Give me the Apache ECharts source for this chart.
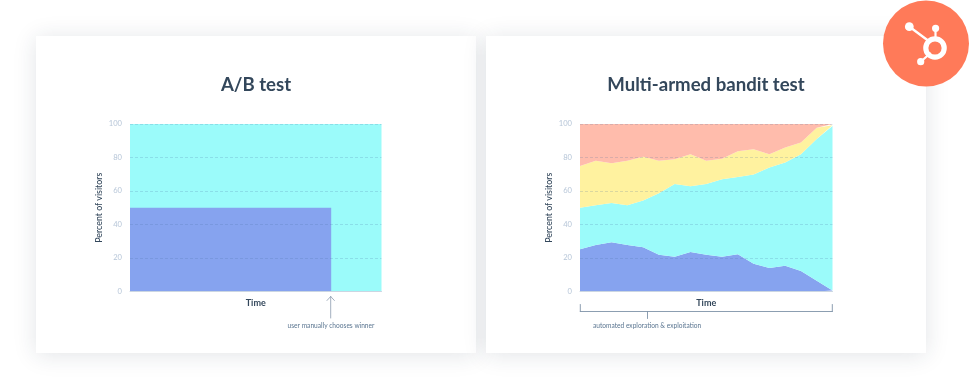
<!DOCTYPE html>
<html>
<head>
<meta charset="utf-8">
<style>html,body{margin:0;padding:0;background:#fff}#c{width:969px;height:389px}</style>
<script src="https://cdn.jsdelivr.net/npm/echarts@6/dist/echarts.min.js"></script>
</head>
<body>
<div id="c"></div>
<script>
const yTicks = [0, 20, 40, 60, 80, 100];

// A/B test: [percent of elapsed time, percent of visitors]
const abBlue = [[0, 50], [80, 50]];
const abCyan = [[0, 100], [100, 100]];

// Multi-armed bandit: share of visitors per arm, at each time step
const steps  = ['1','2','3','4','5','6','7','8','9','10','11','12','13','14','15','16','17'];
const armBlue   = [25.2, 27.8, 29.4, 27.8, 26.4, 22, 20.7, 23.6, 22, 20.7, 22.3, 16.5, 14, 15.3, 12.3, 6.4, 0.6];
const armCyan   = [24.8, 23.7, 23.5, 23.7, 27.9, 36.6, 43.5, 39.2, 42.2, 46.3, 46.1, 53.3, 60, 61.7, 69.7, 84.6, 98.2];
const armYellow = [25, 26.5, 23.6, 26.5, 26.2, 19.4, 14.8, 19.2, 13.8, 12.3, 15.3, 15.2, 8, 9, 7, 6.8, 0.4];
const armRed    = [25, 22, 23.5, 22, 19.5, 22, 21, 18, 22, 20.7, 16.3, 15, 18, 14, 11, 2.2, 0.8];

const BLUE = '#86a3ef', CYAN = '#9bfbfa', YELLOW = '#fff29f', RED = '#ffbcac';
const INK = '#33475b', TICK = '#b7c6d8', NOTE = '#5b7691', FONT = 'Lato, "Open Sans", sans-serif';

function yAxis(gridIndex) {
  return {
    type: 'value', gridIndex, min: yTicks[0], max: yTicks[yTicks.length - 1], interval: 20, z: 6,
    name: 'Percent of visitors', nameLocation: 'middle', nameGap: 26, nameRotate: 90,
    nameTextStyle: { color: INK, fontSize: 8.8, fontFamily: FONT, fontWeight: 500 },
    axisLine: { show: false }, axisTick: { show: false },
    axisLabel: { color: TICK, fontSize: 7.6, fontFamily: FONT, margin: 8 },
    splitLine: { show: true, showMinLine: false, lineStyle: { type: [3, 2], width: 1, color: 'rgba(70,110,160,0.2)' } }
  };
}
const timeName = {
  name: 'Time', nameLocation: 'middle', nameGap: 7, z: 7,
  nameTextStyle: { color: INK, fontSize: 9, fontFamily: FONT, fontWeight: 'bold' },
  axisLine: { show: true, lineStyle: { color: '#cbd6e2', width: 1 } },
  axisTick: { show: false }, axisLabel: { show: false }, splitLine: { show: false }
};
function area(name, data, color, x, y, stack) {
  return {
    name, type: 'line', data, xAxisIndex: x, yAxisIndex: y, stack, symbol: 'none', silent: true,
    lineStyle: { width: 0 }, areaStyle: { color, opacity: 1 }, z: 2
  };
}
const card = (x) => ({
  type: 'rect', z: -10, silent: true,
  shape: { x, y: 36, width: 440, height: 317 },
  style: { fill: '#fff', shadowBlur: 22, shadowColor: 'rgba(30,50,70,0.13)', shadowOffsetY: 2 }
});
const stroke = (color, w) => ({ stroke: color, lineWidth: w, fill: 'none' });
const seg = (x1, y1, x2, y2, color, w, z) => ({
  type: 'line', z: z || 10, silent: true, shape: { x1, y1, x2, y2 },
  style: { stroke: color, lineWidth: w, lineCap: 'round' }
});
const dot = (cx, cy, r) => ({ type: 'circle', z: 102, silent: true, shape: { cx, cy, r }, style: { fill: '#fff' } });
const note = (x, y, text, align) => ({
  type: 'text', z: 10, silent: true, x, y,
  style: { text, fill: NOTE, fontSize: 6.6, fontFamily: FONT, align, verticalAlign: 'middle' }
});

const chart = echarts.init(document.getElementById('c'), null, { renderer: 'canvas' });
chart.setOption({
  animation: false,
  backgroundColor: '#fff',
  title: [
    { text: 'A/B test', left: 251, top: 70, textAlign: 'center',
      textStyle: { color: INK, fontSize: 18.6, fontFamily: FONT, fontWeight: 'bold' } },
    { text: 'Multi-armed bandit test', left: 701, top: 70, textAlign: 'center',
      textStyle: { color: INK, fontSize: 18.6, fontFamily: FONT, fontWeight: 'bold' } }
  ],
  grid: [
    { left: 130, width: 251.5, top: 124, height: 167.5 },
    { left: 580, width: 252.5, top: 124, height: 167.5 }
  ],
  xAxis: [
    Object.assign({ type: 'value', gridIndex: 0, min: 0, max: 100 }, timeName),
    Object.assign({ type: 'category', gridIndex: 1, data: steps, boundaryGap: false }, timeName)
  ],
  yAxis: [yAxis(0), yAxis(1)],
  series: [
    area('Variant B', abCyan, CYAN, 0, 0),
    area('Variant A', abBlue, BLUE, 0, 0),
    area('Arm 1', armBlue, BLUE, 1, 1, 'arms'),
    area('Arm 2', armCyan, CYAN, 1, 1, 'arms'),
    area('Arm 3', armYellow, YELLOW, 1, 1, 'arms'),
    area('Arm 4', armRed, RED, 1, 1, 'arms')
  ],
  graphic: { elements: [
    card(36), card(486),
    // arrow annotation
    seg(330.7, 297, 330.7, 318, '#8a9bad', 0.8),
    seg(327, 300.5, 330.7, 296.5, '#8a9bad', 0.8),
    seg(334.4, 300.5, 330.7, 296.5, '#8a9bad', 0.8),
    note(331, 325.5, 'user manually chooses winner', 'center'),
    // bracket annotation
    seg(580.3, 304.5, 580.3, 311.5, '#7f93a8', 0.9),
    seg(580.3, 311.5, 832.3, 311.5, '#7f93a8', 0.9),
    seg(832.3, 304.5, 832.3, 311.5, '#7f93a8', 0.9),
    seg(647.5, 311.5, 647.5, 318.5, '#7f93a8', 0.9),
    note(593, 325.5, 'automated exploration & exploitation', 'left'),
    // logo badge
    { type: 'circle', z: 100, silent: true, shape: { cx: 926, cy: 43.5, r: 43 }, style: { fill: '#ff7a59' } },
    seg(909.5, 26.8, 930, 42, '#fff', 2.4, 101),
    seg(935.5, 28.5, 935.5, 40, '#fff', 2.2, 101),
    seg(921, 61.5, 930, 53.5, '#fff', 2.2, 101),
    dot(909.3, 26.7, 4.4), dot(935.6, 28.3, 3.6), dot(920.7, 61.7, 3.6),
    { type: 'circle', z: 102, silent: true, shape: { cx: 935, cy: 48, r: 9.2 }, style: stroke('#fff', 5.2) }
  ] }
});
</script>
</body>
</html>
